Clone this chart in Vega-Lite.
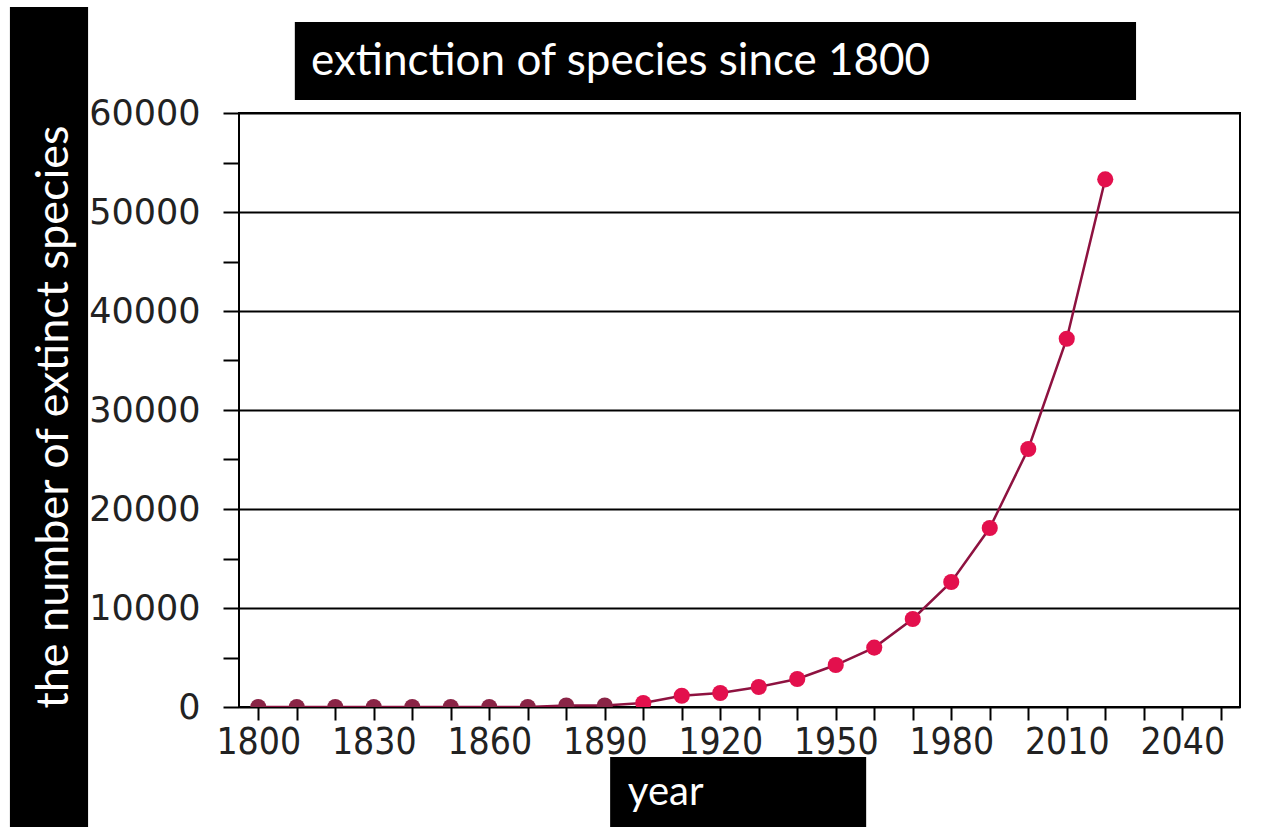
{
  "$schema": "https://vega.github.io/schema/vega-lite/v6.json",
  "autosize": "none",
  "width": 1001,
  "height": 594,
  "padding": {"left": 239, "top": 113, "right": 32, "bottom": 120},
  "background": "white",
  "config": {
    "view": {"stroke": "black", "strokeWidth": 2},
    "axis": {"domain": false}
  },
  "datasets": {
    "species": [
      {"year": 1800, "n": 0},
      {"year": 1810, "n": 0},
      {"year": 1820, "n": 0},
      {"year": 1830, "n": 0},
      {"year": 1840, "n": 0},
      {"year": 1850, "n": 0},
      {"year": 1860, "n": 0},
      {"year": 1870, "n": 0},
      {"year": 1880, "n": 150},
      {"year": 1890, "n": 150},
      {"year": 1900, "n": 400},
      {"year": 1910, "n": 1140},
      {"year": 1920, "n": 1410},
      {"year": 1930, "n": 2020},
      {"year": 1940, "n": 2830},
      {"year": 1950, "n": 4240},
      {"year": 1960, "n": 6000},
      {"year": 1970, "n": 8890},
      {"year": 1980, "n": 12630},
      {"year": 1990, "n": 18080},
      {"year": 2000, "n": 26060},
      {"year": 2010, "n": 37200},
      {"year": 2020, "n": 53300}
    ]
  },
  "layer": [
    {
      "data": {"values": [{}]},
      "mark": {"type": "rect", "color": "black"},
      "encoding": {
        "x": {"datum": 1809.5, "type": "quantitative"},
        "x2": {"datum": 2028},
        "y": {"datum": 69192, "type": "quantitative"},
        "y2": {"datum": 61313}
      }
    },
    {
      "data": {"values": [{}]},
      "mark": {"type": "rect", "color": "black"},
      "encoding": {
        "x": {"datum": 1735.5, "type": "quantitative"},
        "x2": {"datum": 1755.8},
        "y": {"datum": 70707, "type": "quantitative"},
        "y2": {"datum": -12121}
      }
    },
    {
      "data": {"values": [{}]},
      "mark": {"type": "rect", "color": "black"},
      "encoding": {
        "x": {"datum": 1891.4, "type": "quantitative"},
        "x2": {"datum": 1957.9},
        "y": {"datum": -5051, "type": "quantitative"},
        "y2": {"datum": -12121}
      }
    },
    {
      "data": {"values": [{"label": "extinction of species since 1800"}]},
      "mark": {"type": "text", "color": "white", "font": "Lato", "fontSize": 44, "align": "left", "baseline": "alphabetic"},
      "encoding": {
        "x": {"datum": 1813.7, "type": "quantitative"},
        "y": {"datum": 63838, "type": "quantitative"},
        "text": {"field": "label"}
      }
    },
    {
      "data": {"values": [{"label": "the number of extinct species"}]},
      "mark": {"type": "text", "color": "white", "font": "Lato", "fontSize": 45, "align": "center", "baseline": "alphabetic", "angle": 270},
      "encoding": {
        "x": {"datum": 1750.5, "type": "quantitative"},
        "y": {"datum": 29293, "type": "quantitative"},
        "text": {"field": "label"}
      }
    },
    {
      "data": {"values": [{"label": "year"}]},
      "mark": {"type": "text", "color": "white", "font": "Lato", "fontSize": 40, "align": "left", "baseline": "alphabetic"},
      "encoding": {
        "x": {"datum": 1896.0, "type": "quantitative"},
        "y": {"datum": -9899, "type": "quantitative"},
        "text": {"field": "label"}
      }
    },
    {
      "data": {"name": "species"},
      "mark": {"type": "line", "color": "#8e1240", "strokeWidth": 2.5, "clip": true},
      "encoding": {
        "x": {
          "field": "year", "type": "quantitative",
          "scale": {"domain": [1795, 2055], "nice": false, "zero": false},
          "axis": {
            "title": null,
            "values": [1800, 1810, 1820, 1830, 1840, 1850, 1860, 1870, 1880, 1890, 1900, 1910, 1920, 1930, 1940, 1950, 1960, 1970, 1980, 1990, 2000, 2010, 2020, 2030, 2040, 2050],
            "format": "d",
            "labelExpr": "(datum.value - 1800) % 30 === 0 ? datum.label : ''",
            "labelOverlap": false,
            "labelFlush": false,
            "labelFont": "DejaVu Sans Condensed",
            "labelFontSize": 37,
            "labelColor": "#222222",
            "labelPadding": 4,
            "tickSize": 13,
            "tickColor": "black",
            "tickWidth": 2,
            "grid": false,
            "encode": {"ticks": {"update": {"y": {"value": -5}}}}
          }
        },
        "y": {
          "field": "n", "type": "quantitative",
          "scale": {"domain": [0, 60000], "nice": false},
          "axis": {
            "title": null,
            "values": [0, 5000, 10000, 15000, 20000, 25000, 30000, 35000, 40000, 45000, 50000, 55000, 60000],
            "format": "d",
            "labelExpr": "datum.value % 10000 === 0 ? datum.label : ''",
            "labelOverlap": false,
            "labelFlush": false,
            "labelFont": "DejaVu Sans",
            "labelFontSize": 35,
            "labelColor": "#222222",
            "labelPadding": 23,
            "labelBaseline": "middle",
            "tickSize": 16,
            "tickColor": "black",
            "tickWidth": 2,
            "grid": true,
            "gridColor": "black",
            "gridWidth": 2,
            "gridOpacity": {"condition": {"test": "datum.value % 10000 !== 0", "value": 0}, "value": 1},
            "encode": {"ticks": {"update": {
              "x": {"signal": "datum.value % 10000 === 0 ? 0 : 6"},
              "x2": {"signal": "datum.value % 10000 === 0 ? -16 : -10"}
            }}}
          }
        }
      }
    },
    {
      "data": {"name": "species"},
      "mark": {"type": "circle", "size": 260, "opacity": 1, "clip": true},
      "encoding": {
        "x": {"field": "year", "type": "quantitative"},
        "y": {"field": "n", "type": "quantitative"},
        "color": {"condition": {"test": "datum.year < 1900", "value": "#8a2446"}, "value": "#e3104d"}
      }
    }
  ]
}
